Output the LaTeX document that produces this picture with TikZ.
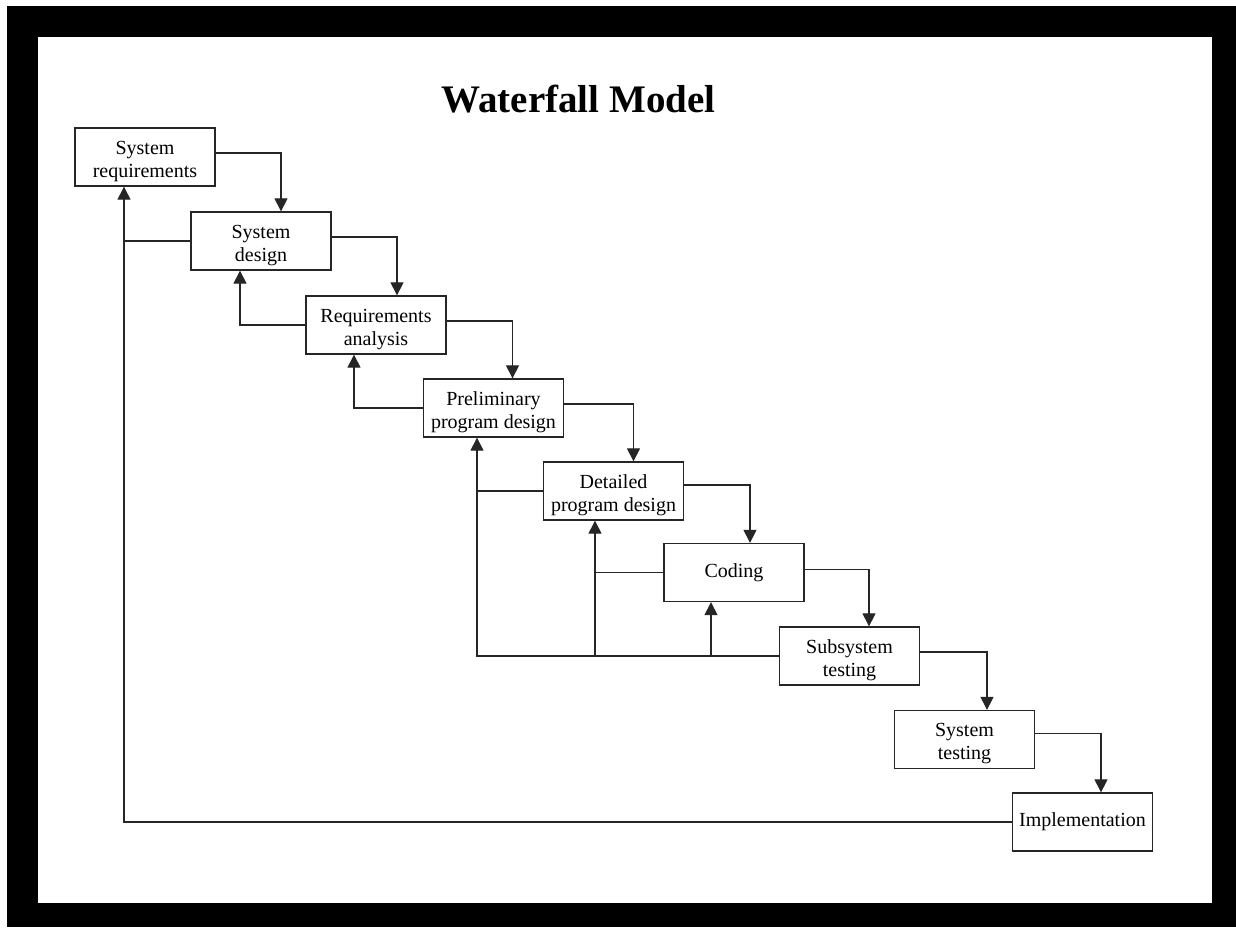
\documentclass[tikz,border=0pt]{standalone}
\usepackage{fontspec}
\setmainfont{Liberation Serif}
\usetikzlibrary{arrows.meta}
\begin{document}
\begin{tikzpicture}[x=1pt,y=-1pt,
  phase/.style={draw=black!85, line width=1.3pt, rectangle, minimum width=140pt,
    minimum height=58pt, inner sep=3pt, align=center,
    font=\fontsize{20pt}{23pt}\selectfont},
  twoline/.style={text height=44pt, text depth=4pt},
  link/.style={draw=black!85, line width=1.1pt},
  tip/.style={link, -{Triangle[length=13pt,width=13pt]}},
  title/.style={font=\fontsize{39pt}{44pt}\selectfont\bfseries, anchor=base, inner sep=0pt}]
  % page frame
  \useasboundingbox (0,0) rectangle (1236,927);
  \fill[black] (7,6) rectangle (1236,927);
  \fill[white] (38,37) rectangle (1212,903);

  \node[title] (ttl) at (578.5,112) {Waterfall Model};

  % phases
  \node[phase,twoline] (b1) at (145,157)    {System\\requirements};
  \node[phase,twoline] (b2) at (261,241)    {System\\design};
  \node[phase,twoline] (b3) at (376,325)    {Requirements\\analysis};
  \node[phase,twoline] (b4) at (493.5,408)  {Preliminary\\program design};
  \node[phase,twoline] (b5) at (613.5,491)  {Detailed\\program design};
  \node[phase]         (b6) at (734,572.5)  {Coding};
  \node[phase,twoline] (b7) at (849.5,656)  {Subsystem\\testing};
  \node[phase,twoline] (b8) at (964.5,739.5){System\\testing};
  \node[phase]         (b9) at (1082.5,822) {Implementation};

  % forward flow
  \draw[tip] ([yshift=4pt]b1.east) -| ([xshift=20pt]b2.north);
  \draw[tip] ([yshift=4pt]b2.east) -| ([xshift=21pt]b3.north);
  \draw[tip] ([yshift=4pt]b3.east) -| ([xshift=19pt]b4.north);
  \draw[tip] ([yshift=4pt]b4.east) -| ([xshift=20pt]b5.north);
  \draw[tip] ([yshift=6pt]b5.east) -| ([xshift=16pt]b6.north);
  \draw[tip] ([yshift=3pt]b6.east) -| ([xshift=19.5pt]b7.north);
  \draw[tip] ([yshift=4pt]b7.east) -| ([xshift=22.5pt]b8.north);
  \draw[tip] ([yshift=6pt]b8.east) -| ([xshift=18.5pt]b9.north);

  % feedback targets
  \coordinate (r1) at ([xshift=-21pt]b1.south);
  \coordinate (r2) at ([xshift=-21pt]b2.south);
  \coordinate (r3) at ([xshift=-22pt]b3.south);
  \coordinate (r4) at ([xshift=-16.5pt]b4.south);
  \coordinate (r5) at ([xshift=-18.5pt]b5.south);
  \coordinate (r6) at ([xshift=-23pt]b6.south);

  % feedback flow
  \draw[tip] (b2.west) -| (r1);
  \draw[tip] (b3.west) -| (r2);
  \draw[tip] (b4.west) -| (r3);
  \draw[tip] (b7.west) -| (r4);
  \draw[link] (b5.west) -- (b5.west -| r4);
  \draw[tip] (b7.west -| r5) -- (r5);
  \draw[link] (b6.west) -- (b6.west -| r5);
  \draw[tip] (b7.west -| r6) -- (r6);
  \draw[link] (b9.west) -| (b2.west -| r1);
\end{tikzpicture}
\end{document}
